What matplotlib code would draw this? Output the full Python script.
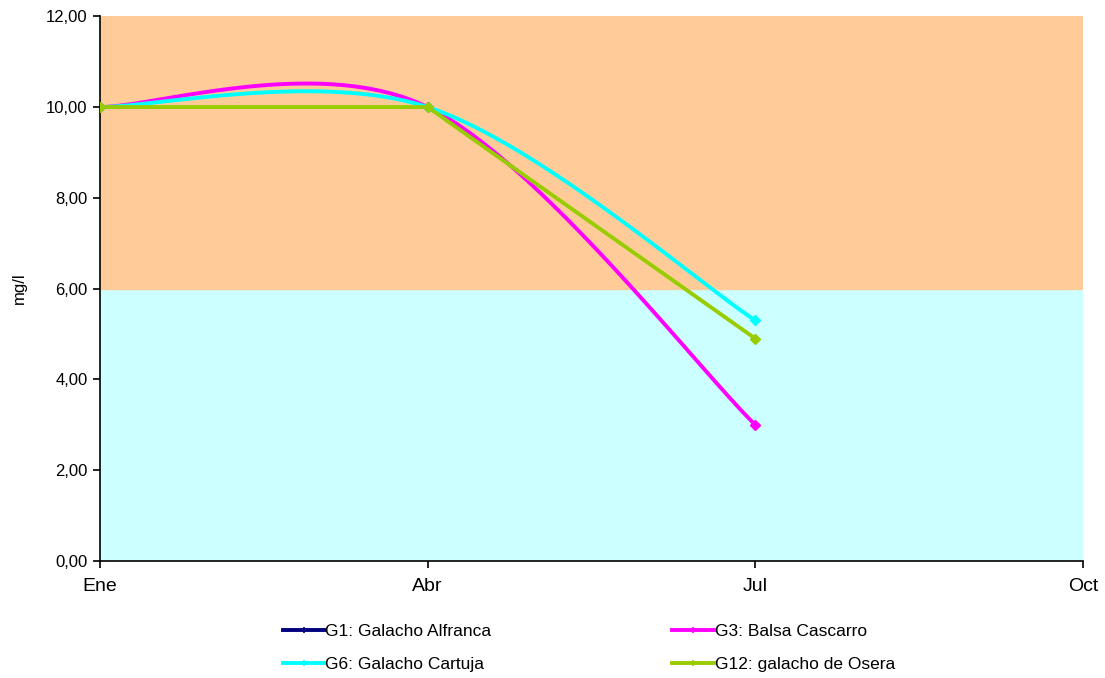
import numpy as np
import matplotlib.pyplot as plt
from matplotlib.ticker import FuncFormatter

plt.rcParams['font.family'] = ['Liberation Sans', 'DejaVu Sans']

months = ['Ene', 'Abr', 'Jul', 'Oct']
g1 = [np.nan, np.nan, np.nan]
g3 = [10.0, 10.0, 3.0]
g6 = [10.0, 10.0, 5.3]
g12 = [10.0, 10.0, 4.9]
band_low = [0.0, 6.0]
band_high = [6.0, 12.0]


def excel_smooth(x, y, n=60):
    # bezier smoothing like the spreadsheet "smoothed line" option
    pts = [(a, b) for a, b in zip(x, y) if not np.isnan(b)]
    xs, ys = [], []
    for i in range(len(pts) - 1):
        p0 = np.array(pts[i])
        p1 = np.array(pts[i + 1])
        pm = np.array(pts[i - 1]) if i > 0 else p0
        pp = np.array(pts[i + 2]) if i + 2 < len(pts) else p1
        c1 = p0 + (p1 - pm) / 6.0
        c2 = p1 - (pp - p0) / 6.0
        t = np.linspace(0, 1, n)[:, None]
        seg = ((1 - t) ** 3) * p0 + 3 * ((1 - t) ** 2) * t * c1 + 3 * (1 - t) * t ** 2 * c2 + t ** 3 * p1
        xs.extend(seg[:, 0])
        ys.extend(seg[:, 1])
    return xs, ys


fig = plt.figure(figsize=(11.05, 6.78), dpi=100)
ax = fig.add_axes([0.0905, 0.1726, 0.8895, 0.8034])

ax.axhspan(band_low[0], band_low[1], color='#CCFFFF', zorder=0)
ax.axhspan(band_high[0], band_high[1], color='#FFCC99', zorder=0)

x = np.arange(3)
series = [
    ('G1: Galacho Alfranca', g1, '#000080', True),
    ('G3: Balsa Cascarro', g3, '#FF00FF', True),
    ('G6: Galacho Cartuja', g6, '#00FFFF', True),
    ('G12: galacho de Osera', g12, '#99CC00', False),
]
handles = {}
for name, vals, col, smooth in series:
    vals = np.array(vals, dtype=float)
    if smooth:
        sx, sy = excel_smooth(x, vals)
    else:
        sx, sy = x, vals
    ax.plot(sx, sy, color=col, lw=2.8, zorder=3, solid_capstyle='butt')
    ax.plot(x, vals, ls='none', marker='D', ms=5, color=col, zorder=4)
    h, = ax.plot([], [], color=col, lw=2.8, marker='+', ms=4, mew=1.2)
    handles[name] = h

ax.set_xlim(0, 3)
ax.set_ylim(0, 12)
ax.set_xticks(range(4))
ax.set_xticklabels(months, fontsize=14)
ax.set_yticks(np.arange(0, 13, 2))
ax.yaxis.set_major_formatter(FuncFormatter(lambda v, p: ('%.2f' % v).replace('.', ',')))
ax.tick_params(axis='y', labelsize=12, length=5, width=1.2, direction='out', pad=4)
ax.tick_params(axis='x', length=5, width=1.2, direction='out', pad=7)
for s in ['top', 'right']:
    ax.spines[s].set_visible(False)
for s in ['left', 'bottom']:
    ax.spines[s].set_linewidth(1.2)
ax.set_ylabel('mg/l', fontsize=12, labelpad=14)

order = ['G1: Galacho Alfranca', 'G6: Galacho Cartuja', 'G3: Balsa Cascarro', 'G12: galacho de Osera']
fig.legend([handles[k] for k in order], order, ncol=2, loc='center',
           bbox_to_anchor=(0.533, 0.0445), frameon=False, fontsize=12.5,
           handlelength=2.4, handletextpad=0.05, columnspacing=10.4, labelspacing=1.0)

fig.savefig('out.png', dpi=100)
